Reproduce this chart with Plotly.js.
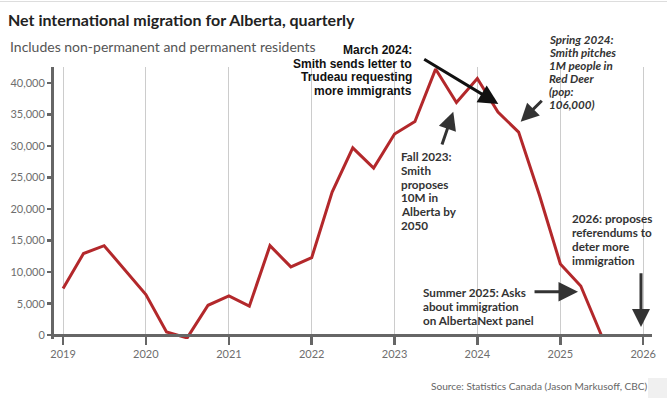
<!DOCTYPE html>
<html><head><meta charset="utf-8">
<script src="https://cdn.plot.ly/plotly-3.0.1.min.js"></script>
<style>html,body{margin:0;padding:0;background:#fff}#chart{width:667px;height:398px}</style>
</head><body><div id="chart"></div>
<script>
// ---- data ----
const quarters = [
  '2019-01-01','2019-04-01','2019-07-01','2019-10-01',
  '2020-01-01','2020-04-01','2020-07-01','2020-10-01',
  '2021-01-01','2021-04-01','2021-07-01','2021-10-01',
  '2022-01-01','2022-04-01','2022-07-01','2022-10-01',
  '2023-01-01','2023-04-01','2023-07-01','2023-10-01',
  '2024-01-01','2024-04-01','2024-07-01','2024-10-01',
  '2025-01-01','2025-04-01','2025-07-01'
];
const migration = [
  7400, 12950, 14200, 10300,
  6450, 520, -430, 4750,
  6230, 4600, 14200, 10830,
  12300, 22700, 29700, 26500,
  31900, 33900, 42200, 36900,
  40700, 35400, 32200, 22200,
  11300, 7800, 0
];
const yearTicks = ['2019-01-01','2020-01-01','2021-01-01','2022-01-01','2023-01-01','2024-01-01','2025-01-01','2026-01-01'];
const yearLabels = ['2019','2020','2021','2022','2023','2024','2025','2026'];
const valueTicks = [0,5000,10000,15000,20000,25000,30000,35000,40000];

const titleText = 'Net international migration for Alberta, quarterly';
const subtitleText = 'Includes non-permanent and permanent residents';
const sourceText = 'Source: Statistics Canada (Jason Markusoff, CBC)';

const marchLines = ['March 2024:', 'Smith sends letter to', 'Trudeau requesting', 'more immigrants'];
const springLines = ['Spring 2024:', 'Smith pitches', '1M people in', 'Red Deer', '(pop:', '106,000)'];
const fallLines = ['Fall 2023:', 'Smith', 'proposes', '10M in', 'Alberta by', '2050'];
const futureLines = ['2026: proposes', 'referendums to', 'deter more', 'immigration'];
const summerLines = ['Summer 2025: Asks', 'about immigration', 'on AlbertaNext panel'];

// ---- styling / layout ----
const grey = '#6e6e6e';
const axisGrey = '#666666';
const noteDark = '#333333';
const lato = 'Lato, "Open Sans", sans-serif';
const yMin = -600, yMax = 42530;

const trace = {
  x: quarters, y: migration, type: 'scatter', mode: 'lines',
  line: {color: '#b3282b', width: 3}, hoverinfo: 'skip'
};

function block(lines, x, y, step, xanchor, font, wrap) {
  return lines.map((t, i) => ({
    xref: 'paper', yref: 'paper', x: x, y: y, yshift: -i * step,
    xanchor: xanchor, yanchor: 'middle', align: xanchor,
    showarrow: false, text: wrap(t), font: font
  }));
}
const b = t => '<b>' + t + '</b>';
const bi = t => '<b><i>' + t + '</i></b>';

function arrow(x, y, ax, ay, color, size) {
  return {
    xref: 'paper', yref: 'paper', x: x, y: y, ax: ax, ay: ay,
    axref: 'pixel', ayref: 'pixel', text: '', showarrow: true,
    arrowhead: 2, arrowsize: size, arrowwidth: 3, arrowcolor: color, standoff: 0
  };
}

const noteFont = {family: lato, size: 11.7, color: noteDark};

const annotations = [].concat(
  [{xref: 'paper', yref: 'paper', x: -0.0769, y: 1.0746, xanchor: 'left', yanchor: 'middle',
    showarrow: false, text: subtitleText, font: {family: lato, size: 14, color: '#555'}}],
  [{xref: 'paper', yref: 'paper', x: 0.9967, y: -0.1728, xanchor: 'right', yanchor: 'middle',
    showarrow: false, text: sourceText, font: {family: lato, size: 10.1, color: '#666'}}],
  block(marchLines, 0.602, 1.0625, 13.7, 'right', {family: '"Liberation Sans", Arial, sans-serif', size: 12, color: '#111'}, b),
  block(springLines, 0.825, 1.1, 13, 'left', {family: lato, size: 11.6, color: noteDark}, bi),
  block(fallLines, 0.5774, 0.6728, 13.8, 'left', noteFont, b),
  block(futureLines, 0.8627, 0.4437, 13.9, 'left', noteFont, b),
  block(summerLines, 0.6137, 0.1739, 14, 'left', noteFont, b),
  [
    arrow(0.7430, 0.8640, -75.6, -45.7, '#111', 1.3),
    arrow(0.7804, 0.7989, 22.6, -22.4, noteDark, 1.2),
    arrow(0.6677, 0.8357, -11.8, 34.3, noteDark, 1.2),
    arrow(0.9816, 0.0441, 0, -55.3, noteDark, 1.2),
    arrow(0.8763, 0.1739, -45, 0, noteDark, 1.3)
  ]
);

const layout = {
  width: 667, height: 398,
  margin: {l: 54, r: 15, t: 67, b: 59},
  paper_bgcolor: '#fff', plot_bgcolor: '#fff',
  showlegend: false, hovermode: false,
  title: {
    text: '<b>' + titleText + '</b>', xref: 'container', yref: 'container',
    x: 8 / 667, xanchor: 'left', y: 1 - 20.7 / 398, yanchor: 'middle',
    font: {family: lato, size: 16, color: '#222'}
  },
  xaxis: {
    type: 'date', range: ['2018-11-22', '2026-02-09'],
    tickvals: yearTicks, ticktext: yearLabels,
    showgrid: true, gridcolor: '#cccccc', gridwidth: 1,
    showline: true, linecolor: axisGrey, linewidth: 3,
    ticks: 'outside', ticklen: 8, tickwidth: 2.5, tickcolor: axisGrey,
    tickfont: {family: lato, size: 11, color: grey},
    anchor: 'free', position: (0 - yMin) / (yMax - yMin),
    zeroline: false, fixedrange: true
  },
  yaxis: {
    range: [yMin, yMax], tickvals: valueTicks, tickformat: ',',
    showgrid: false, zeroline: false,
    showline: true, linecolor: axisGrey, linewidth: 3,
    ticks: 'outside', ticklen: 4, tickwidth: 2.5, tickcolor: axisGrey,
    tickfont: {family: lato, size: 11, color: grey},
    fixedrange: true
  },
  shapes: [
    {type: 'line', xref: 'paper', yref: 'paper', x0: -0.0903, x1: 1.0251, y0: 1.2408, y1: 1.2408,
     line: {color: '#dddddd', width: 1}},
    {type: 'rect', xref: 'paper', yref: 'paper', x0: 0.9933, x1: 1.0251, y0: -0.2169, y1: -0.1434,
     fillcolor: '#f0f0f0', line: {width: 0}, layer: 'below'}
  ],
  annotations: annotations
};

Plotly.newPlot('chart', [trace], layout, {displayModeBar: false, staticPlot: true});
</script>
</body></html>
